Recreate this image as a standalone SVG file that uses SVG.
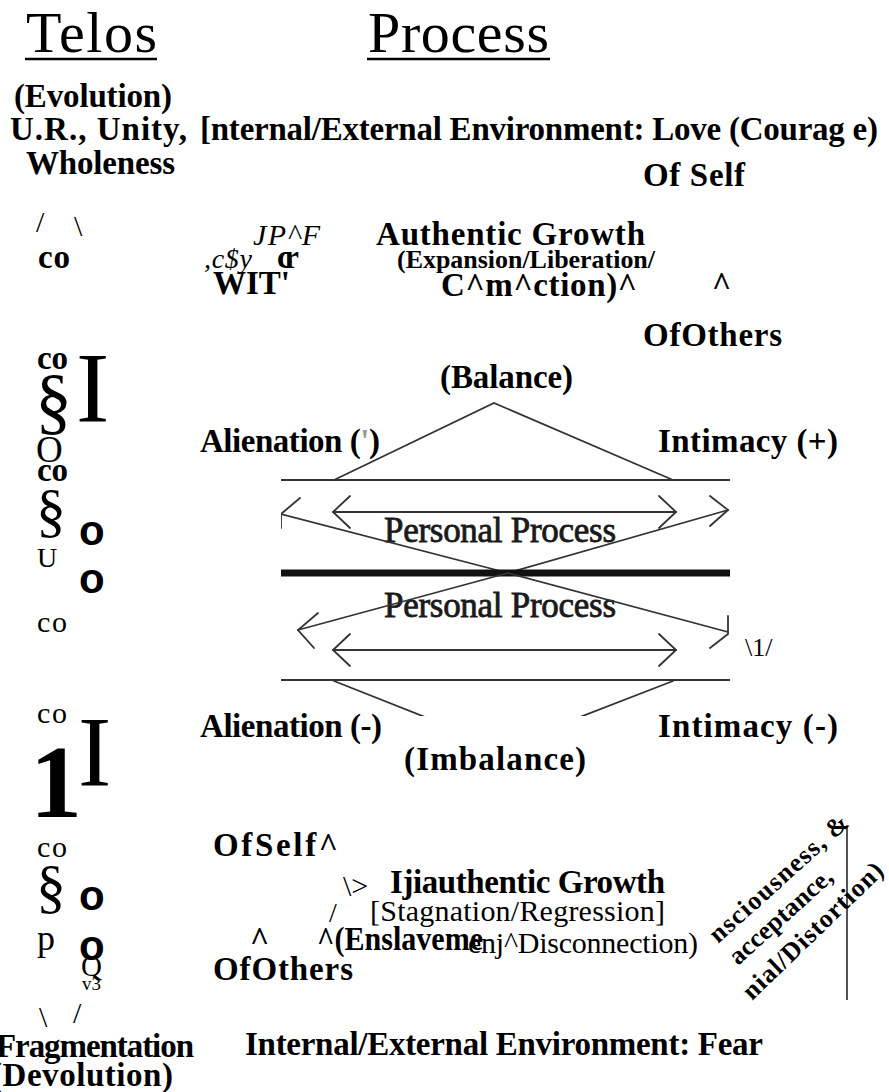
<svg xmlns="http://www.w3.org/2000/svg" width="889" height="1092" viewBox="0 0 889 1092">
<style>
text{font-family:"Liberation Serif","Times New Roman",serif;fill:#000}
.b{font-weight:bold;font-size:33px}
.r{font-size:30px}
.i{font-style:italic}
.big{font-size:100px}
.ob{font-family:"Liberation Sans",Arial,sans-serif;font-weight:bold;font-size:42px}
.pp{font-size:35px;fill:#1a1a1a;stroke:#1a1a1a;stroke-width:0.8}
.ln{stroke:#333;stroke-width:1.8;fill:none;stroke-linecap:round;stroke-linejoin:miter}
.rot{font-weight:bold;font-size:26px}
</style>
<defs>
<clipPath id="frame"><rect x="281" y="395" width="449" height="321"/></clipPath>
</defs>
<rect width="889" height="1092" fill="#fff"/>

<g id="titles">
<text x="26" y="52" font-size="58" textLength="131">Telos</text>
<line x1="25" y1="59" x2="157" y2="59" stroke="#000" stroke-width="2.5"/>
<text x="368" y="52" font-size="58" textLength="181">Process</text>
<line x1="367" y1="59" x2="550" y2="59" stroke="#000" stroke-width="2.5"/>
</g>

<g id="telos-top">
<text class="b" x="14" y="107" textLength="158">(Evolution)</text>
<text class="b" x="10" y="140" textLength="177">U.R., Unity,</text>
<text class="b" x="26" y="174" textLength="149">Wholeness</text>
<text class="r" x="36" y="232">/</text>
<text class="r" x="74" y="236">\</text>
<text class="b" x="38" y="268" textLength="32">co</text>
</g>

<g id="process-top">
<text class="b" x="200" y="140" textLength="678">[nternal/External Environment: Love (Courag e)</text>
<text class="b" x="643" y="186" textLength="102">Of Self</text>
<text class="i" x="253" y="245" font-size="30" textLength="67">JP^F</text>
<text class="b" x="376" y="245" textLength="269">Authentic Growth</text>
<text class="i" x="204" y="268" font-size="28" textLength="48">,c$y</text>
<text class="b" x="277" y="268" font-size="27" textLength="22">cr</text>
<text x="397" y="268" font-size="26" font-weight="bold" textLength="258" lengthAdjust="spacingAndGlyphs">(Expansion/Liberation/</text>
<text class="b" x="213" y="294" textLength="77">WIT'</text>
<text class="b" x="441" y="296" textLength="196">C^m^ction)^</text>
<text class="b" x="712" y="295">^</text>
<text class="b" x="643" y="346" textLength="139">OfOthers</text>
</g>

<g id="left-column">
<text class="b" x="37" y="369" textLength="31">co</text>
<text x="35" y="425" font-size="74">§</text>
<text class="big" x="76" y="421">I</text>
<text x="36" y="462" font-size="37">O</text>
<text class="b" x="37" y="481" textLength="31">co</text>
<text x="36" y="530" font-size="60">§</text>
<text class="ob" x="79" y="545">o</text>
<text x="37" y="567" font-size="28">U</text>
<text class="ob" x="79" y="593">o</text>
<text class="r" x="37" y="632" textLength="30">co</text>
<text class="r" x="37" y="723" textLength="30">co</text>
<text class="big" x="78" y="785">I</text>
<text x="30" y="817" font-size="104" font-weight="bold">1</text>
<text class="r" x="37" y="857" textLength="30">co</text>
<text x="36" y="906" font-size="60">§</text>
<text class="ob" x="79" y="910">o</text>
<text x="37" y="950" font-size="36">p</text>
<text class="ob" x="79" y="960">o</text>
<text x="81" y="976" font-size="29">Q</text>
<text x="82" y="990" font-size="19">v3</text>
<text class="r" x="39" y="1027">\</text>
<text class="r" x="73" y="1023">/</text>
<text class="b" x="-4" y="1057" textLength="198">Fragmentation</text>
<text class="b" x="-9" y="1086" textLength="182">(Devolution)</text>
</g>

<g id="balance-labels">
<text class="b" x="440" y="388" textLength="133">(Balance)</text>
<text class="b" x="200" y="452" textLength="180">Alienation (<tspan fill="#999">'</tspan>)</text>
<text class="b" x="658" y="452" textLength="180">Intimacy (+)</text>
<text class="pp" x="384" y="542" textLength="232">Personal Process</text>
<text class="pp" x="384" y="617" textLength="232">Personal Process</text>
<text x="745" y="656" font-size="26">\1/</text>
<text class="b" x="200" y="737" textLength="182">Alienation (-)</text>
<text class="b" x="658" y="737" textLength="180">Intimacy (-)</text>
<text class="b" x="404" y="770" textLength="182">(Imbalance)</text>
</g>

<g id="connectors" clip-path="url(#frame)">
<line class="ln" x1="281" y1="480" x2="730" y2="480"/>
<polyline class="ln" points="334,480 494,403 673,480"/>
<line class="ln" x1="333" y1="512" x2="676" y2="512"/>
<polyline class="ln" points="350,496 333,512 350,528"/>
<polyline class="ln" points="659,496 676,512 659,528"/>
<polyline class="ln" points="300,498 281,514 281,528"/>
<line class="ln" x1="281" y1="514" x2="508" y2="573"/>
<line class="ln" x1="508" y1="573" x2="728" y2="510"/>
<polyline class="ln" points="710,496 728,510 710,526"/>
<line x1="281" y1="573" x2="730" y2="573" stroke="#111" stroke-width="7"/>
<line class="ln" x1="508" y1="573" x2="298" y2="630"/>
<polyline class="ln" points="318,613 298,630 314,648"/>
<line class="ln" x1="508" y1="573" x2="728" y2="632"/>
<polyline class="ln" points="728,616 728,634 710,648"/>
<line class="ln" x1="333" y1="650" x2="676" y2="650"/>
<polyline class="ln" points="350,634 333,650 350,666"/>
<polyline class="ln" points="659,634 676,650 659,666"/>
<line class="ln" x1="281" y1="680" x2="730" y2="680"/>
<line class="ln" x1="334" y1="681" x2="425" y2="717"/>
<line class="ln" x1="673" y1="681" x2="580" y2="717"/>
</g>

<g id="process-bottom">
<text class="b" x="213" y="856" font-size="30" textLength="125">OfSelf^</text>
<text x="343" y="896" font-size="30">\&gt;</text>
<text class="b" x="390" y="893" font-size="32" textLength="275">Ijiauthentic Growth</text>
<text x="329" y="922" font-size="28">/</text>
<text x="370" y="921" font-size="30" textLength="295">[Stagnation/Regression]</text>
<text class="b" x="250" y="950" font-size="30">^</text>
<text class="b" x="317" y="950" textLength="166" lengthAdjust="spacingAndGlyphs">^(Enslaveme</text>
<text x="468" y="953" font-size="30" textLength="230">enj^Disconnection)</text>
<text class="b" x="213" y="980" textLength="140">OfOthers</text>
<text class="b" x="245" y="1055" textLength="518">Internal/External Environment: Fear</text>
</g>

<g id="rotated-fragment">
<line x1="847" y1="825" x2="847" y2="1000" stroke="#555" stroke-width="2"/>
<text class="rot" transform="translate(718,944) rotate(-42)" textLength="178">nsciousness, &amp;</text>
<text class="rot" transform="translate(738,966) rotate(-42)" textLength="130">acceptance,</text>
<text class="rot" transform="translate(752,1001) rotate(-44)" textLength="185">nial/Distortion)</text>
</g>
</svg>
